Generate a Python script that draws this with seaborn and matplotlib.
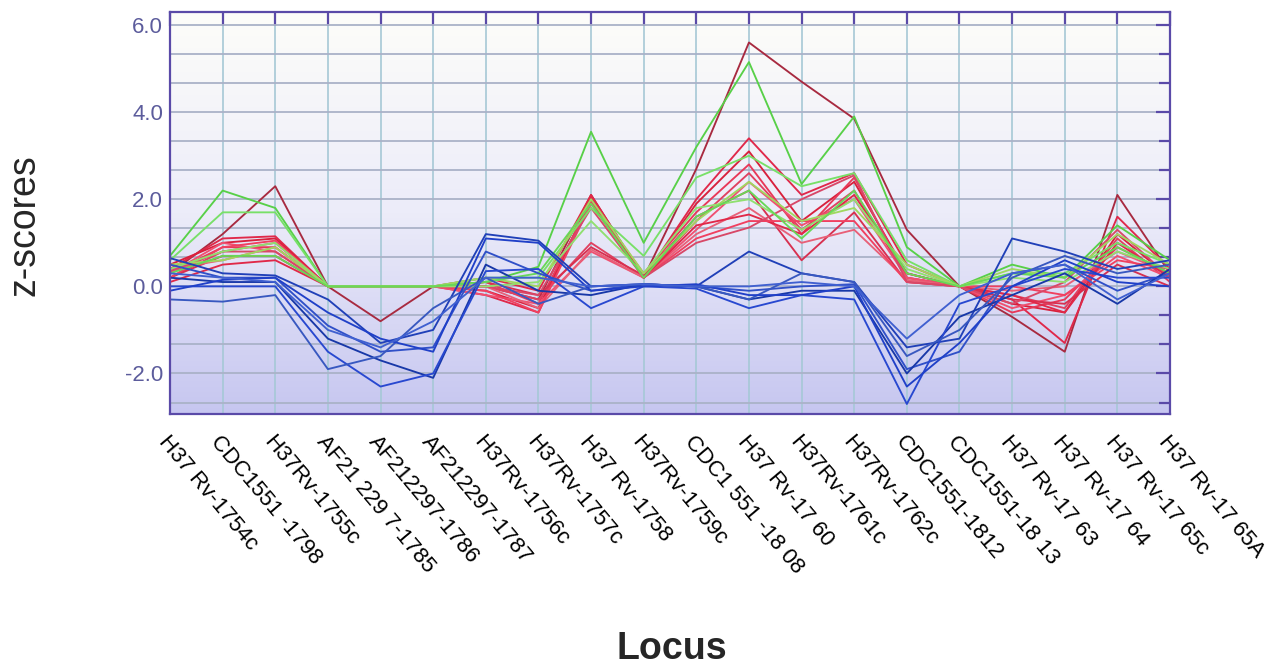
import numpy as np
import pandas as pd
import seaborn as sns
import matplotlib.pyplot as plt
from matplotlib.ticker import MultipleLocator
from matplotlib.colors import LinearSegmentedColormap


sns.set_theme(style="white")
plt.rcParams['font.family'] = ['Liberation Sans', 'DejaVu Sans']

loci = ["H37 Rv-1754c", "CDC1551 -1798", "H37Rv-1755c", "AF21 229 7-1785",
        "AF212297-1786", "AF212297-1787", "H37Rv-1756c", "H37Rv-1757c",
        "H37 Rv-1758", "H37Rv-1759c", "CDC1 551 -18 08", "H37 Rv-17 60",
        "H37Rv-1761c", "H37Rv-1762c", "CDC1551-1812", "CDC1551-18 13",
        "H37 Rv-17 63", "H37 Rv-17 64", "H37 Rv-17 65c", "H37 Rv-17 65A"]

# z-scores per isolate, one list per line
red_lines = [
    [0.3, 1.2, 2.3, 0.0, -0.8, 0.0, 0.0, -0.3, 2.1, 0.2, 2.7, 5.6, 4.7, 3.85, 1.3, 0.0, -0.7, -1.5, 2.1, 0.3],
    [0.4, 1.1, 1.15, 0.0, 0.0, 0.0, -0.2, -0.6, 2.05, 0.2, 2.0, 3.4, 2.1, 2.6, 0.5, 0.0, -0.3, -1.3, 1.6, 0.4],
    [0.5, 1.0, 1.1, 0.0, 0.0, 0.0, -0.1, -0.5, 2.0, 0.2, 1.9, 3.1, 1.5, 2.4, 0.3, 0.0, -0.4, -0.6, 1.2, 0.2],
    [0.3, 0.9, 0.9, 0.0, 0.0, 0.0, 0.1, -0.4, 1.95, 0.3, 1.7, 2.8, 1.2, 2.5, 0.2, 0.0, -0.6, -0.3, 0.9, 0.3],
    [0.2, 0.8, 1.0, 0.0, 0.0, 0.0, 0.0, -0.3, 1.0, 0.2, 1.5, 2.6, 1.3, 2.2, 0.2, 0.0, -0.2, -0.5, 1.1, 0.1],
    [0.3, 1.0, 0.8, 0.0, 0.0, 0.0, -0.2, -0.4, 0.8, 0.2, 1.3, 2.4, 1.4, 2.0, 0.2, 0.0, -0.5, -0.2, 0.7, 0.2],
    [0.2, 0.7, 0.7, 0.0, 0.0, 0.0, 0.1, -0.2, 0.9, 0.25, 1.6, 2.2, 0.6, 1.7, 0.1, 0.0, -0.3, -0.4, 0.5, 0.0],
    [0.4, 0.6, 0.9, 0.0, 0.0, 0.0, 0.0, -0.5, 0.85, 0.2, 1.2, 1.8, 1.0, 1.3, 0.15, 0.0, -0.1, 0.0, 0.8, 0.3],
    [0.1, 0.5, 0.6, 0.0, 0.0, 0.0, 0.2, -0.1, 2.1, 0.2, 1.4, 1.65, 1.2, 2.1, 0.3, 0.0, -0.2, -0.6, 1.0, 0.2],
    [0.2, 0.9, 1.05, 0.0, 0.0, 0.0, -0.1, -0.6, 1.9, 0.2, 1.1, 1.5, 1.5, 1.5, 0.1, 0.0, 0.0, -0.2, 0.6, 0.4],
    [0.35, 0.8, 0.8, 0.0, 0.0, 0.0, 0.0, -0.2, 1.8, 0.2, 1.0, 1.35, 2.0, 2.55, 0.1, 0.0, -0.4, 0.1, 1.3, 0.2],
]
green_lines = [
    [0.7, 2.2, 1.8, 0.0, 0.0, 0.0, 0.1, 0.45, 3.55, 1.0, 3.2, 5.15, 2.35, 3.9, 0.9, 0.0, 0.5, 0.2, 1.4, 0.6],
    [0.6, 1.7, 1.7, 0.0, 0.0, 0.0, 0.2, 0.2, 1.8, 0.7, 2.5, 3.0, 2.3, 2.6, 0.6, 0.0, 0.3, 0.3, 1.0, 0.5],
    [0.4, 0.8, 1.0, 0.0, 0.0, 0.0, 0.0, 0.1, 1.5, 0.3, 1.8, 2.0, 1.3, 2.0, 0.4, 0.0, 0.2, 0.1, 0.8, 0.4],
    [0.5, 0.6, 0.9, 0.0, 0.0, 0.0, 0.2, 0.0, 2.0, 0.3, 1.5, 2.4, 1.5, 1.8, 0.5, 0.0, 0.4, 0.2, 1.2, 0.5],
    [0.3, 0.7, 0.7, 0.0, 0.0, 0.0, 0.1, 0.3, 1.9, 0.2, 1.6, 2.2, 1.1, 2.2, 0.3, 0.0, 0.3, 0.2, 0.9, 0.3],
]
blue_lines = [
    [0.65, 0.3, 0.25, -0.3, -1.3, -1.0, 1.2, 1.05, 0.0, 0.05, 0.0, 0.8, 0.3, 0.1, -1.4, -1.2, 1.1, 0.8, 0.4, 0.6],
    [0.5, 0.2, 0.2, -0.9, -1.5, -1.4, 0.8, 0.3, -0.1, 0.05, 0.0, -0.1, 0.0, 0.05, -1.9, -1.5, 0.3, 0.5, -0.1, 0.3],
    [0.2, 0.1, 0.1, -1.2, -1.7, -2.1, 0.5, -0.1, -0.2, 0.05, 0.0, -0.3, -0.1, -0.1, -2.0, -0.7, -0.2, 0.3, -0.4, 0.4],
    [0.0, 0.0, 0.0, -1.5, -2.3, -2.0, 0.35, 0.4, -0.5, 0.0, -0.05, -0.5, -0.2, -0.3, -2.7, -0.4, 0.0, 0.4, 0.2, 0.2],
    [-0.3, -0.35, -0.2, -1.9, -1.6, -0.5, 0.2, -0.4, 0.0, 0.05, 0.0, -0.3, 0.3, 0.1, -1.6, -1.0, 0.2, 0.7, 0.3, 0.5],
    [-0.1, 0.15, 0.2, -0.6, -1.2, -1.5, 1.1, 1.0, -0.1, 0.0, 0.05, -0.2, -0.2, 0.0, -2.3, -1.3, 0.0, 0.6, 0.1, 0.0],
    [0.3, 0.2, 0.1, -1.0, -1.4, -0.8, 0.2, 0.2, 0.0, 0.05, 0.0, 0.0, 0.1, 0.0, -1.2, -0.2, 0.3, 0.5, -0.3, 0.3],
]

red_colors = ['#a82a40', '#e0284a', '#d8203c', '#e83858', '#e04060', '#f05070',
              '#d83050', '#e86078', '#e02848', '#f04060', '#d84868']
green_colors = ['#58d048', '#78e068', '#90e070', '#a0d860', '#68d858']
blue_colors = ['#2040b8', '#3050c8', '#1838a8', '#2848d0', '#3858c0', '#2040c8', '#4060d0']

rows = []
palette = {}
order = []
for name, lines, cols in [('r', red_lines, red_colors),
                          ('g', green_lines, green_colors),
                          ('b', blue_lines, blue_colors)]:
    for i, vals in enumerate(lines):
        key = f'{name}{i}'
        palette[key] = cols[i]
        order.append(key)
        for j, v in enumerate(vals):
            rows.append({'line': key, 'pos': j, 'z': v})
df = pd.DataFrame(rows)

frame_col = '#5a4aa8'
ymin, ymax = -2.93, 6.3

fig = plt.figure(figsize=(12.83, 6.68), dpi=100)
ax = fig.add_axes([170 / 1283, 1 - 414 / 668, 1000 / 1283, 402 / 668])

# white-to-lavender background
bg = LinearSegmentedColormap.from_list('bg', ['#fdfdfa', '#ececf9', '#c6c6f0'])
ax.imshow(np.linspace(0, 1, 256).reshape(-1, 1), extent=[0, 19, ymin, ymax],
          aspect='auto', cmap=bg, origin='upper', zorder=0)

sns.lineplot(data=df, x='pos', y='z', hue='line', hue_order=order, palette=palette,
             estimator=None, errorbar=None, sort=False, legend=False, lw=1.35, ax=ax)

ax.set_xlim(0, 19)
ax.set_ylim(ymin, ymax)

ax.set_xticks(range(len(loci)))
ax.set_xticklabels(loci, rotation=-50, ha='left', va='top', rotation_mode='anchor',
                   fontsize=16, color='black')
ax.yaxis.set_major_locator(MultipleLocator(2))
ax.yaxis.set_minor_locator(MultipleLocator(2 / 3))
ax.set_yticklabels([f'{t:.1f}' for t in ax.get_yticks()], fontsize=16, color='#5c5c9c')

ax.tick_params(axis='both', which='both', direction='in', top=True, right=True,
               color=frame_col, width=1.6)
ax.tick_params(axis='both', which='major', length=10)
ax.tick_params(axis='both', which='minor', length=8)
ax.tick_params(axis='x', pad=13)
ax.tick_params(axis='y', pad=5)

ax.grid(axis='y', which='both', color='#aab2c8', lw=1.3)
ax.grid(axis='x', which='major', color='#a6c8d6', lw=1.2)

for s in ax.spines.values():
    s.set_color(frame_col)
    s.set_linewidth(1.6)

ax.set_xlabel('')
ax.set_ylabel('')
fig.text(24 / 1283, 1 - 225 / 668, 'z-scores', rotation=90, fontsize=27,
         ha='center', va='center')
fig.text(672 / 1283, 1 - 649 / 668, 'Locus', fontsize=27, fontweight='bold',
         ha='center', va='center')

fig.savefig('out.png', dpi=100)
